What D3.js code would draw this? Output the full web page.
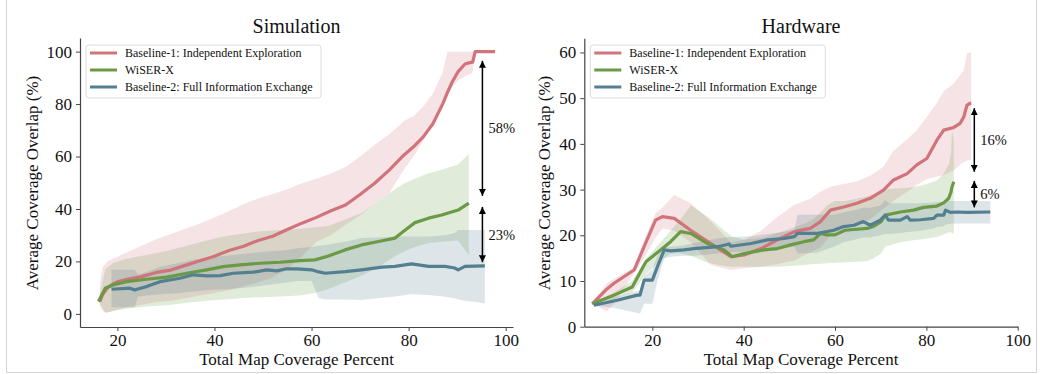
<!DOCTYPE html>
<html>
<head>
<meta charset="utf-8">
<script src="https://cdn.jsdelivr.net/npm/d3@7"></script>
<style>
  body { margin: 0; background: #fff; }
</style>
</head>
<body>
<div id="chart"></div>
<script>
// legend labels / titles
const seriesNames = ["Baseline-1: Independent Exploration", "WiSER-X", "Baseline-2: Full Information Exchange"];
const panelTitles = ["Simulation", "Hardware"];
const xTicks = [20, 40, 60, 80, 100];
const simYTicks = [0, 20, 40, 60, 80, 100];
const hwYTicks = [0, 10, 20, 30, 40, 50, 60];

// ---- Simulation: Baseline-1
const simB1X = [16.4, 17, 18, 19, 20, 22, 25, 28, 31, 34, 37, 40, 43, 46, 49, 52, 55, 58, 61, 64, 67, 70, 73, 76, 79, 81, 83, 85, 87, 88, 89, 90.2, 91.6, 92.6, 93.2, 93.7, 97.8];
const simB1 = [4.7, 7.5, 10, 11.3, 12.2, 13.2, 14.2, 15.8, 16.7, 18.5, 20.3, 22, 24.2, 25.8, 28, 29.6, 32.2, 34.6, 36.8, 39.3, 41.5, 45.5, 49.8, 54.8, 60.5, 63.7, 67.5, 72.5, 80, 84.5, 88.5, 92.4, 95.3, 95.8, 96, 100, 100];
const simB1Hi = [12, 18, 20, 21, 21.8, 23.5, 26, 28.5, 30.5, 32.5, 34.5, 36.8, 39.2, 41.8, 44, 45.7, 47.5, 49.8, 51.5, 53.5, 56, 60, 64.5, 68.5, 73.5, 75.5, 79, 84, 92, 100, 100, 100, 100, 100, 100, 100, 100];
const simB1Lo = [3, 1, 0.5, 1, 1.5, 2.5, 3.5, 4.5, 5, 6, 7, 8, 9, 10.5, 12, 14, 17, 22, 27.5, 30, 34, 37.5, 42, 46, 55, 60, 66, 72, 79, 83, 86.5, 89, 90.5, 91.5, 92, 100, 100];

// ---- Simulation: WiSER-X
const simWX = [16.1, 17.5, 19.2, 21.9, 26, 30.2, 34.3, 38.4, 41.8, 45.3, 49.4, 53.5, 57.6, 60.7, 63.5, 66.9, 70.3, 73.8, 77.2, 79.3, 81.3, 84.1, 86.8, 90.2, 92.4];
const simW = [4.7, 9.8, 11.1, 12.3, 13.2, 14, 15.5, 16.8, 18, 18.7, 19.3, 19.7, 20.3, 20.6, 22.1, 24.4, 26.3, 27.6, 28.9, 32, 34.8, 36.5, 37.7, 39.6, 42.2];
const simWHi = [4.7, 17, 19.5, 21, 22.5, 24, 26, 28, 29.5, 30.5, 31.5, 32, 32.5, 33, 33.5, 36, 38.5, 43, 47.5, 50, 51.5, 53.6, 55, 57, 61];
const simWLo = [4.7, 0.3, 1.2, 2, 2.8, 3.3, 4.2, 5, 5.5, 6, 6.3, 6.6, 7, 8, 9.5, 12, 14.5, 18, 22, 24, 25.5, 27, 27.5, 28, 22.5];

// ---- Simulation: Baseline-2
const simB2X = [18.8, 22.6, 23.6, 24.2, 26, 28.8, 32.9, 35.6, 38.4, 41.2, 43.9, 48, 50.8, 52.8, 54.9, 57, 60, 61.5, 62.8, 66.9, 70.3, 74.5, 77.2, 80.6, 84.1, 87.5, 89.5, 90.2, 91.6, 95.7];
const simB2 = [9.4, 9.8, 9.1, 9.5, 10.4, 12.3, 13.6, 14.9, 14.5, 14.6, 15.5, 15.9, 16.8, 16.4, 17.2, 17.2, 16.8, 16, 15.5, 16.1, 16.8, 17.8, 18.1, 19.1, 18.1, 18.1, 17.5, 16.8, 18.1, 18.3];
const simB2Hi = [16.8, 16.8, 16.8, 15, 16, 18, 19.5, 20.6, 21.3, 22, 22.5, 23.3, 23.8, 24, 24.4, 25, 25.5, 26, 26.3, 27.5, 28.9, 29.2, 29.5, 29.5, 29.5, 30, 30.8, 32, 32, 32];
const simB2Lo = [2.5, 2.5, 2.5, 6.5, 7, 7.5, 8, 8.5, 9, 9.3, 9.6, 10.3, 11, 11.5, 12, 12.5, 12.5, 6, 5.5, 5.5, 5.3, 6.2, 6.6, 7.5, 7.2, 6.5, 6, 5.5, 5, 4.1];

// ---- Hardware: Baseline-1
const hwB1X = [6.85, 10, 11.6, 16, 18.2, 20.7, 22.2, 24.8, 28.4, 32.8, 37.2, 40.1, 43.8, 47.4, 51.1, 54.6, 56.8, 59, 61.9, 64.8, 67.7, 70.6, 72.8, 75.8, 77.9, 80.1, 82.3, 83.8, 86, 87.4, 88.2, 88.9, 89.8];
const hwB1 = [5, 8.2, 9.5, 12.4, 17.5, 23.3, 24.1, 23.7, 21.1, 18.2, 15.3, 15.7, 17.1, 19, 20.8, 21.5, 23, 25.5, 26.2, 27, 28.1, 29.9, 32.1, 33.5, 35.4, 36.8, 40.8, 43, 43.6, 44.5, 45.9, 48.5, 49];
const hwB1Hi = [5, 9.5, 10.5, 13, 19, 24.8, 26, 28.8, 27, 23, 18.5, 19, 21, 24, 26.7, 28, 29.5, 30.6, 31.2, 31.8, 33, 35, 38.5, 41, 43, 45.9, 49, 51.5, 53.2, 55, 56.1, 59.8, 60.1];
const hwB1Lo = [5, 3.3, 5, 11.7, 15, 19.5, 21.5, 21, 18.5, 13.5, 12.4, 12.8, 13.1, 13.7, 14.5, 16.3, 17.3, 20, 21.5, 22.3, 23.5, 25.8, 27.5, 29.5, 31, 32.3, 32.8, 33.2, 34.2, 35.5, 36, 36.3, 36.5];

// ---- Hardware: WiSER-X
const hwWX = [6.85, 11.6, 15.6, 18.6, 21.8, 24, 26.2, 28.4, 32.1, 35.7, 37.5, 40.1, 44.5, 47.4, 50.3, 53.2, 55.3, 56.8, 58.2, 60, 62.2, 67, 68.5, 70.1, 71, 74.3, 77.2, 79.4, 82.3, 83.8, 84.9, 85.4, 85.6, 86];
const hwW = [5, 6.9, 8.7, 14.2, 16.8, 18.6, 20.8, 20.4, 18.2, 16.8, 15.3, 16, 16.8, 17.1, 17.9, 18.6, 19, 20.4, 20.1, 20.1, 21.1, 21.5, 22, 23, 24.4, 25.1, 25.5, 26.1, 26.4, 27.1, 28.1, 29.5, 30.5, 31.7];
const hwWHi = [5, 7.5, 10, 14.8, 18.5, 21, 23.5, 26.5, 24.1, 21.1, 19.7, 19, 19.5, 20.5, 21.5, 22.5, 23.5, 25, 26.5, 27.5, 27.5, 28.5, 29, 29.5, 30, 30.3, 30.5, 31, 32, 33.5, 35.5, 38, 43, 41];
const hwWLo = [5, 6, 7.5, 11.5, 14.5, 16, 16, 15.5, 14, 13.3, 13.1, 13.1, 13.1, 13.1, 13.3, 13.5, 13.7, 13.8, 13.9, 14, 14.1, 14.3, 15, 16, 17.5, 18.5, 18.9, 19.2, 19.6, 20.2, 20.6, 20.6, 20.4, 20.4];

// ---- Hardware: Baseline-2
const hwB2X = [7.2, 12.3, 16.7, 17.3, 18.2, 20, 21.1, 22.6, 24, 26.9, 29.1, 34.3, 36.8, 37.2, 41.6, 45.2, 48.9, 51.1, 51.8, 56, 59.7, 61.9, 64.2, 66.2, 67.7, 69.9, 71, 71.7, 74.3, 75.8, 76.5, 78.7, 81.6, 82.3, 83.8, 84.2, 85.3, 86.7, 88.9, 94];
const hwB2 = [4.7, 5.8, 6.9, 6.9, 10.2, 10.2, 13.1, 16.8, 16.6, 16.8, 17.1, 17.5, 18.1, 17.6, 18.2, 19, 19.3, 19.7, 20.4, 20.4, 21.1, 21.9, 22.2, 23, 22.2, 23.3, 24.4, 23.3, 23.3, 24.1, 23.3, 23.4, 23.7, 24.4, 24.4, 25.5, 25, 25.1, 25, 25.1];
const hwB2Hi = [4.7, 6.5, 7.8, 8, 11, 12.5, 15.5, 17.5, 17.5, 17.8, 18.3, 19.3, 19.6, 19.6, 19.8, 20.3, 20.8, 21.2, 24.5, 24.5, 24.5, 25, 25.5, 26, 26, 26.5, 27.7, 27, 27, 27, 27, 27, 27.2, 27.3, 27.3, 27.5, 27.5, 27.5, 27.5, 27.5];
const hwB2Lo = [4.7, 4, 3, 2.9, 5, 5, 10, 15, 15.3, 15.5, 15.5, 16, 16.3, 16.3, 16.5, 17, 17.2, 17.5, 16, 16.2, 17.5, 18.5, 19, 19.5, 19.5, 20, 20.3, 20.3, 20.5, 20.7, 20.8, 21, 21.5, 21.8, 22, 22.3, 22.5, 22.6, 22.6, 22.6];

// gap annotations: [x, yTop, yBottom, label]
const simGaps = [[95.2, 96.5, 45, "58%"], [95.2, 40.8, 19.7, "23%"]];
const hwGaps = [[90.5, 47.8, 33.9, "16%"], [90.5, 31.9, 26.1, "6%"]];

const colors = ["#d0737b", "#6a9a46", "#537f91"];
const serif = '"Liberation Serif", "Times New Roman", Times, Tinos, "Nimbus Roman", "FreeSerif", "Noto Serif", "DejaVu Serif", serif';

const width = 1040, height = 374;
const svg = d3.select("#chart").append("svg")
  .attr("width", width).attr("height", height)
  .attr("viewBox", [0, 0, width, height])
  .attr("font-family", serif);

// faint frame around the figure
svg.append("path")
  .attr("d", "M6.5,0 V372.5 H1036.5 V0")
  .attr("fill", "none").attr("stroke", "#d4d4d4").attr("stroke-width", 1);

const defs = svg.append("defs");
defs.append("marker")
  .attr("id", "head").attr("viewBox", "0 0 10 10")
  .attr("refX", 10).attr("refY", 5)
  .attr("markerWidth", 7).attr("markerHeight", 7)
  .attr("markerUnits", "userSpaceOnUse")
  .attr("orient", "auto-start-reverse")
  .append("path").attr("d", "M0,0 L10,5 L0,10 z").attr("fill", "#000");

function toRows(xs, m, lo, hi) {
  return xs.map((x, i) => ({ x, m: m[i], lo: lo[i], hi: hi[i] }));
}

function drawPanel(p) {
  const x = d3.scaleLinear().domain(p.xDomain).range([p.left, p.right]);
  const y = d3.scaleLinear().domain(p.yDomain).range([p.bottom, p.top]);
  const g = svg.append("g");

  // bands first
  p.series.forEach((rows, i) => {
    g.append("path")
      .datum(rows)
      .attr("fill", colors[i]).attr("fill-opacity", 0.2)
      .attr("d", d3.area().x(d => x(d.x)).y0(d => y(d.lo)).y1(d => y(d.hi)));
  });
  // then mean lines
  p.series.forEach((rows, i) => {
    g.append("path")
      .datum(rows)
      .attr("fill", "none").attr("stroke", colors[i])
      .attr("stroke-width", 3.2).attr("stroke-linejoin", "round")
      .attr("d", d3.line().x(d => x(d.x)).y(d => y(d.m)));
  });

  // axes
  const xAxis = g.append("g")
    .attr("transform", `translate(0, ${p.bottom})`)
    .call(d3.axisBottom(x).tickValues(xTicks).tickSize(4).tickPadding(3).tickSizeOuter(0));
  const yAxis = g.append("g")
    .attr("transform", `translate(${p.left}, 0)`)
    .call(d3.axisLeft(y).tickValues(p.yTicks).tickSize(4).tickPadding(4).tickSizeOuter(0));
  [xAxis, yAxis].forEach(a => {
    a.attr("font-family", serif).attr("font-size", 17);
    a.select(".domain").attr("stroke", "#444").attr("stroke-width", 1.2);
    a.selectAll(".tick line").attr("stroke", "#444").attr("stroke-width", 1);
    a.selectAll(".tick text").attr("fill", "#111");
  });

  g.append("text")
    .attr("x", (p.left + p.right) / 2).attr("y", 33)
    .attr("text-anchor", "middle").attr("font-size", 20).attr("fill", "#111")
    .text(p.title);
  g.append("text")
    .attr("x", (p.left + p.right) / 2).attr("y", 365)
    .attr("text-anchor", "middle").attr("font-size", 17).attr("fill", "#111")
    .text("Total Map Coverage Percent");
  g.append("text")
    .attr("transform", `translate(${p.yLabelX}, 183) rotate(-90)`)
    .attr("text-anchor", "middle").attr("font-size", 17).attr("fill", "#111")
    .text("Average Coverage Overlap (%)");

  // gap arrows
  p.gaps.forEach(([gx, y1, y2, label]) => {
    g.append("line")
      .attr("x1", x(gx)).attr("x2", x(gx))
      .attr("y1", y(y2)).attr("y2", y(y1))
      .attr("stroke", "#000").attr("stroke-width", 1.5)
      .attr("marker-start", "url(#head)").attr("marker-end", "url(#head)");
    g.append("text")
      .attr("x", x(gx) + 6).attr("y", (y(y1) + y(y2)) / 2 + 5)
      .attr("font-size", 14.5).attr("fill", "#111")
      .text(label);
  });

  // legend
  const lg = g.append("g").attr("transform", `translate(${p.left + 6}, 45)`);
  lg.append("rect")
    .attr("width", 235).attr("height", 53).attr("rx", 3)
    .attr("fill", "#fff").attr("fill-opacity", 0.8)
    .attr("stroke", "#dcdcdc").attr("stroke-width", 1);
  seriesNames.forEach((name, i) => {
    const yy = 8 + i * 17;
    lg.append("line")
      .attr("x1", 4).attr("x2", 31).attr("y1", yy).attr("y2", yy)
      .attr("stroke", colors[i]).attr("stroke-width", 3);
    lg.append("text")
      .attr("x", 39).attr("y", yy + 4)
      .attr("font-size", 12).attr("fill", "#111")
      .text(name);
  });
}

drawPanel({
  title: panelTitles[0],
  xDomain: [12.3, 101.5], yDomain: [-5, 105.2],
  left: 80, right: 513, top: 38, bottom: 327,
  yTicks: simYTicks, yLabelX: 38,
  series: [toRows(simB1X, simB1, simB1Lo, simB1Hi), toRows(simWX, simW, simWLo, simWHi), toRows(simB2X, simB2, simB2Lo, simB2Hi)],
  gaps: simGaps
});
drawPanel({
  title: panelTitles[1],
  xDomain: [5.1, 100], yDomain: [0, 63.1],
  left: 584.3, right: 1017.7, top: 38.3, bottom: 326.7,
  yTicks: hwYTicks, yLabelX: 550,
  series: [toRows(hwB1X, hwB1, hwB1Lo, hwB1Hi), toRows(hwWX, hwW, hwWLo, hwWHi), toRows(hwB2X, hwB2, hwB2Lo, hwB2Hi)],
  gaps: hwGaps
});
</script>
</body>
</html>
